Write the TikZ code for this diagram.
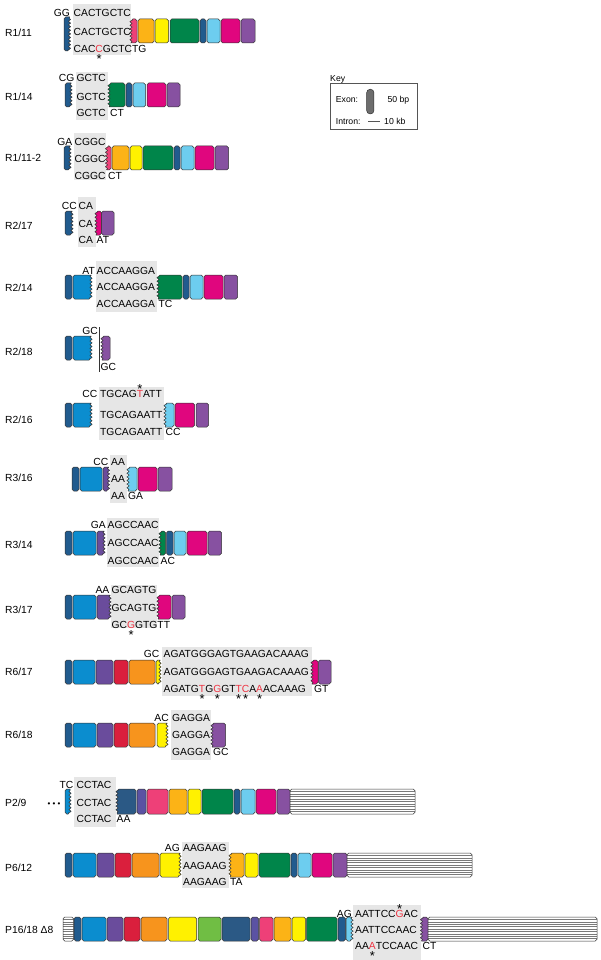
\documentclass[tikz,border=0pt]{standalone}
\usepackage{fontspec}
\setmainfont{Liberation Sans}
\usetikzlibrary{decorations.pathmorphing}
\definecolor{dblue}{HTML}{215B8E}
\definecolor{mblue}{HTML}{0B8DCF}
\definecolor{lblue}{HTML}{6DCDEF}
\definecolor{purp}{HTML}{8751A1}
\definecolor{violet}{HTML}{6A4C9C}
\definecolor{exred}{HTML}{DA1F3D}
\definecolor{orng}{HTML}{F7941D}
\definecolor{gold}{HTML}{FCB316}
\definecolor{yell}{HTML}{FFF100}
\definecolor{grn}{HTML}{00854A}
\definecolor{mag}{HTML}{E0067E}
\definecolor{pnk}{HTML}{EE4078}
\definecolor{lgrn}{HTML}{70BE44}
\definecolor{slate}{HTML}{2B5985}
\definecolor{indg}{HTML}{5B52A3}
\definecolor{seqgray}{HTML}{E6E6E6}
\definecolor{mutred}{HTML}{EE3342}
\definecolor{outl}{HTML}{333333}
\definecolor{stripegray}{HTML}{555555}
\definecolor{stripeln}{HTML}{7A7A7A}
\definecolor{keygray}{HTML}{6D6D6D}
\tikzset{
 exon/.style={draw=outl,line width=0.5pt,rounded corners=1.8pt},
 wavy/.style={decoration={zigzag,segment length=3.6pt,amplitude=1.1pt}},
 sq/.style={font=\fontsize{10.3}{12}\selectfont,inner sep=0pt,text height=7.4pt,text depth=0pt},
 keyf/.style={font=\fontsize{8.7}{10}\selectfont,inner sep=0pt,text height=6.2pt,text depth=0pt},
 stripe/.style={draw=stripeln,line width=0.35pt},
 sepline/.style={draw=outl,line width=0.5pt},
}
\newsavebox\chbox
\newcommand\MutB[1]{\sbox\chbox{#1}\rlap{\makebox[\wd\chbox]{\raisebox{-11.2pt}[0pt][0pt]{\fontsize{13}{13}\selectfont*}}}\textcolor{mutred}{#1}}
\newcommand\MutA[1]{\sbox\chbox{#1}\rlap{\makebox[\wd\chbox]{\raisebox{4.4pt}[0pt][0pt]{\fontsize{13}{13}\selectfont*}}}\textcolor{mutred}{#1}}
\newcommand\ExN[3]{\filldraw[exon,fill=#1] (#2,\rowT) rectangle (#3,\rowB);}
\newcommand\ExR[3]{\filldraw[exon,fill=#1] ({(#2+#3)/2},\rowT) -- (#2,\rowT) -- (#2,\rowB) -- (#3,\rowB) [sharp corners] decorate[wavy]{-- (#3,\rowT)} -- cycle;}
\newcommand\ExL[3]{\filldraw[exon,fill=#1] ({(#2+#3)/2},\rowB) -- (#3,\rowB) -- (#3,\rowT) -- (#2,\rowT) [sharp corners] decorate[wavy]{-- (#2,\rowB)} -- cycle;}
\newcommand\Intr[2]{\begin{scope}\clip[rounded corners=1.8pt] (#1,\rowT) rectangle (#2,\rowB);
 \fill[white] (#1,\rowT) rectangle (#2,\rowB);
 \foreach \k in {1,...,9}{\draw[stripe] (#1,{\rowT+\k*(\rowB-\rowT)/10}) -- (#2,{\rowT+\k*(\rowB-\rowT)/10});}
 \end{scope}\draw[exon] (#1,\rowT) rectangle (#2,\rowB);}
\newcommand\Gbox[4]{\fill[seqgray] (#1,#2) rectangle (#3,#4);}
\newcommand\SqW[4]{\node[sq,anchor=west] (#1) at (#2,#3) {#4};}
\newcommand\SqE[4]{\node[sq,anchor=east] (#1) at (#2,#3) {#4};}
\begin{document}
\begin{tikzpicture}[x=1pt,y=-1pt]
\useasboundingbox (0,0) rectangle (601,960);
% ---------- R1/11
\SqW{l1}{5}{33}{R1/11}
\Gbox{73}{4}{131}{55}
\def\rowT{19}\def\rowB{43}
{\def\rowT{17}\def\rowB{51}\ExR{dblue}{64}{69.5}}
\ExL{pnk}{131}{137}
\ExN{gold}{138}{154}
\ExN{yell}{155}{168.5}
\ExN{grn}{170}{199}
\ExN{dblue}{200}{206}
\ExN{lblue}{207}{220}
\ExN{mag}{221}{240}
\ExN{purp}{241}{255}
\SqE{a0}{70}{13}{GG}
\SqW{a1}{73.5}{13}{CACTGCTC}
\SqW{a2}{73.5}{32}{CACTGCTC}
\SqW{a3}{73.5}{49}{CAC\MutB{C}GCTCTG}
% ---------- Key
\node[keyf,anchor=west] (keyt) at (330,78.5) {Key};
\node[draw=stripegray,line width=0.5pt,minimum width=87pt,minimum height=46.5pt,inner sep=0pt,anchor=north west] (keybox) at (330,82.8) {};
\node[draw=outl,fill=keygray,line width=0.5pt,rounded corners=3.5pt,minimum width=7.3pt,minimum height=24.7pt,inner sep=0pt] (kex) at (370.3,101.6) {};
\node[keyf,anchor=west] (kt1) at (335.7,99.5) {Exon:};
\node[keyf,anchor=west] (kt2) at (387.3,99.5) {50 bp};
\node[keyf,anchor=west] (kt3) at (335.7,121.7) {Intron:};
\coordinate (ki1) at (368.3,121.7); \coordinate (ki2) at (380,121.7);
\draw[stripegray,line width=0.5pt] (ki1) -- (ki2);
\node[keyf,anchor=west] (kt4) at (384,121.7) {10 kb};
% ---------- R1/14
\SqW{l2}{5}{97}{R1/14}
\Gbox{76}{72}{108}{120}
\def\rowT{83}\def\rowB{107}
\ExR{dblue}{65}{71}
\ExL{grn}{109}{125}
\ExN{dblue}{126}{132}
\ExN{lblue}{133}{145.5}
\ExN{mag}{147}{166}
\ExN{purp}{167}{180}
\SqE{b0}{74.5}{78}{CG}
\SqW{b1}{76.5}{78}{GCTC}
\SqW{b2}{76.5}{97}{GCTC}
\SqW{b3}{76.5}{113}{GCTC}
\SqW{b4}{110}{113}{CT}
% ---------- R1/11-2
\SqW{l3}{5}{158}{R1/11-2}
\Gbox{74}{133}{106}{180}
\def\rowT{146}\def\rowB{170}
\ExR{dblue}{64}{70}
\ExL{pnk}{106.5}{111}
\ExN{gold}{112}{129}
\ExN{yell}{130}{142}
\ExN{grn}{143}{173}
\ExN{dblue}{174}{180}
\ExN{lblue}{181}{194}
\ExN{mag}{195}{214}
\ExN{purp}{215}{228.5}
\SqE{c0}{72.5}{142}{GA}
\SqW{c1}{74.5}{142}{CGGC}
\SqW{c2}{74.5}{159}{CGGC}
\SqW{c3}{74.5}{176}{CGGC}
\SqW{c4}{108}{176}{CT}
% ---------- R2/17
\SqW{l4}{5}{226}{R2/17}
\Gbox{78}{197}{96}{247}
\def\rowT{211}\def\rowB{235}
\ExR{dblue}{65}{72}
\ExL{mag}{96}{101.5}
\ExN{purp}{101.5}{114}
\SqE{d0}{77}{206}{CC}
\SqW{d1}{78.5}{206}{CA}
\SqW{d2}{78.5}{224}{CA}
\SqW{d3}{78.5}{240}{CA}
\SqW{d4}{96.5}{240}{AT}
% ---------- R2/14
\SqW{l5}{5}{288}{R2/14}
\Gbox{96}{261}{157}{312}
\def\rowT{275}\def\rowB{299}
\ExN{dblue}{65}{72}
\ExR{mblue}{73}{91}
\ExL{grn}{158}{182}
\ExN{dblue}{183}{189}
\ExN{lblue}{190}{203}
\ExN{mag}{204}{223}
\ExN{purp}{224}{237.5}
\SqE{e0}{95}{271}{AT}
\SqW{e1}{96.5}{271}{ACCAAGGA}
\SqW{e2}{96.5}{287}{ACCAAGGA}
\SqW{e3}{96.5}{304}{ACCAAGGA}
\SqW{e4}{158.5}{304}{TC}
% ---------- R2/18
\SqW{l6}{5}{352}{R2/18}
\def\rowT{336}\def\rowB{360}
\ExN{dblue}{65}{72}
\ExR{mblue}{73}{91}
\ExL{purp}{102}{110}
\SqE{f0}{98}{331}{GC}
\coordinate (f5) at (99,327); \coordinate (f6) at (99,372);
\draw[sepline] (f5) -- (f6);
\SqW{f1}{100.5}{367}{GC}
% ---------- R2/16
\SqW{l7}{5}{420}{R2/16}
\Gbox{99}{387}{164}{440}
\def\rowT{403}\def\rowB{427}
\ExN{dblue}{65}{72}
\ExR{mblue}{73}{91}
\ExL{lblue}{165}{174}
\ExN{mag}{175}{194.5}
\ExN{purp}{196}{208.5}
\SqE{g0}{97.5}{394}{CC}
\SqW{g1}{100}{394}{TGCAG\MutA{T}ATT}
\SqW{g2}{100}{415}{TGCAGAATT}
\SqW{g3}{100}{432}{TGCAGAATT}
\SqW{g4}{165.5}{432}{CC}
% ---------- R3/16
\SqW{l8}{5}{478}{R3/16}
\Gbox{110}{455}{127}{503}
\def\rowT{467}\def\rowB{491}
\ExN{dblue}{72}{79}
\ExN{mblue}{80}{102}
\ExR{violet}{103}{108.5}
\ExL{lblue}{128}{137}
\ExN{mag}{138}{157}
\ExN{purp}{158}{172}
\SqE{h0}{108.5}{462}{CC}
\SqW{h1}{111}{462}{AA}
\SqW{h2}{111}{479}{AA}
\SqW{h3}{111}{496}{AA}
\SqW{h4}{128}{496}{GA}
% ---------- R3/14
\SqW{l9}{5}{545}{R3/14}
\Gbox{107}{518}{159}{567}
\def\rowT{531}\def\rowB{555}
\ExN{dblue}{65}{72}
\ExN{mblue}{73}{96}
\ExR{violet}{97}{104}
\ExL{grn}{160}{165.5}
\ExN{dblue}{166.5}{173}
\ExN{lblue}{174}{186}
\ExN{mag}{187}{207}
\ExN{purp}{208}{221.5}
\SqE{i0}{106}{525}{GA}
\SqW{i1}{107.5}{525}{AGCCAAC}
\SqW{i2}{107.5}{543}{AGCCAAC}
\SqW{i3}{107.5}{561}{AGCCAAC}
\SqW{i4}{160.5}{561}{AC}
% ---------- R3/17
\SqW{l10}{5}{610}{R3/17}
\Gbox{111}{585}{157}{628}
\def\rowT{595}\def\rowB{619}
\ExN{dblue}{65}{72}
\ExN{mblue}{73}{96}
\ExR{violet}{97}{110}
\ExL{mag}{158}{171}
\ExN{purp}{172}{185}
\SqE{j0}{109.5}{590}{AA}
\SqW{j1}{111.5}{590}{GCAGTG}
\SqW{j2}{111.5}{608}{GCAGTG}
\SqW{j3}{111.5}{625}{GC\MutB{G}GTGTT}
% ---------- R6/17
\SqW{l11}{5}{672}{R6/17}
\Gbox{162}{647}{312}{696}
\def\rowT{660}\def\rowB{684}
\ExN{dblue}{65}{72}
\ExN{mblue}{73}{95}
\ExN{violet}{96}{113}
\ExN{exred}{114}{128}
\ExN{orng}{129}{155}
\ExR{yell}{156}{160}
\ExL{mag}{312}{318}
\ExN{purp}{318.5}{331}
\SqE{k0}{159.5}{654}{GC}
\SqW{k1}{163.5}{654}{AGATGGGAGTGAAGACAAAG}
\SqW{k2}{163.5}{672}{AGATGGGAGTGAAGACAAAG}
\SqW{k3}{163.5}{689}{AGATG\MutB{T}G\MutB{G}GT\MutB{T}\MutB{C}A\MutB{A}ACAAAG}
\SqW{k4}{314}{689}{GT}
% ---------- R6/18
\SqW{l12}{5}{735}{R6/18}
\Gbox{171}{710}{211}{760}
\def\rowT{723}\def\rowB{747}
\ExN{dblue}{65}{72}
\ExN{mblue}{73}{96}
\ExN{violet}{97}{113}
\ExN{exred}{114}{128}
\ExN{orng}{129}{155}
\ExR{yell}{157}{167}
\ExL{purp}{212}{225.5}
\SqE{m0}{169}{718}{AC}
\SqW{m1}{172}{718}{GAGGA}
\SqW{m2}{172}{735}{GAGGA}
\SqW{m3}{172}{752}{GAGGA}
\SqW{m4}{213}{752}{GC}
% ---------- P2/9
\SqW{l13}{5}{803}{P2/9}
\node[anchor=base,font=\fontsize{8}{8}\selectfont,inner sep=0pt] (dots) at (54,806.5) {• • •};
\Gbox{74}{777}{116}{827}
\def\rowT{789}\def\rowB{814}
\ExR{mblue}{65}{70}
\ExL{slate}{117}{136}
\ExN{indg}{137}{146}
\ExN{pnk}{147}{168}
\ExN{gold}{169}{187}
\ExN{yell}{188}{201}
\ExN{grn}{202}{233}
\ExN{dblue}{234}{240}
\ExN{lblue}{241}{255}
\ExN{mag}{256}{276}
\ExN{purp}{277}{290}
\Intr{290}{415}
\SqE{n0}{73.5}{785}{TC}
\SqW{n1}{76.5}{785}{CCTAC}
\SqW{n2}{76.5}{803}{CCTAC}
\SqW{n3}{76.5}{819}{CCTAC}
\SqW{n4}{116.5}{819}{AA}
% ---------- P6/12
\SqW{l14}{5}{868}{P6/12}
\Gbox{182}{842}{229}{888}
\def\rowT{853}\def\rowB{877}
\ExN{dblue}{65}{72}
\ExN{mblue}{73}{96}
\ExN{violet}{97}{114}
\ExN{exred}{115}{131}
\ExN{orng}{132}{159}
\ExR{yell}{160}{180}
\ExL{gold}{230}{244}
\ExN{yell}{245}{258}
\ExN{grn}{259}{290}
\ExN{dblue}{291}{297}
\ExN{lblue}{298}{311}
\ExN{mag}{312}{332}
\ExN{purp}{333}{347}
\Intr{347}{472}
\SqE{p0}{180}{848}{AG}
\SqW{p1}{183}{848}{AAGAAG}
\SqW{p2}{183}{866}{AAGAAG}
\SqW{p3}{183}{882}{AAGAAG}
\SqW{p4}{230}{882}{TA}
% ---------- P16/18 D8
\SqW{l15}{5}{930}{P16/18 Δ8}
\Gbox{353}{905}{421}{960}
\def\rowT{917}\def\rowB{941}
\Intr{63}{73.5}
\ExN{dblue}{74}{81}
\ExN{mblue}{82}{106}
\ExN{violet}{107}{123}
\ExN{exred}{124}{140}
\ExN{orng}{141}{167}
\ExN{yell}{168.5}{196.5}
\ExN{lgrn}{198}{221}
\ExN{slate}{222}{250}
\ExN{indg}{251}{258.5}
\ExN{pnk}{259.5}{273}
\ExN{gold}{274}{291}
\ExN{yell}{292}{305.5}
\ExN{grn}{306.5}{337}
\ExN{dblue}{338}{345.5}
\ExR{lblue}{346}{352}
\ExL{purp}{421.5}{428}
\Intr{428}{597}
\SqE{q0}{352}{914}{AG}
\SqW{q1}{355}{914}{AATTCC\MutA{G}AC}
\SqW{q2}{355}{930}{AATTCCAAC}
\SqW{q3}{355}{946}{AA\MutB{A}TCCAAC}
\SqW{q4}{422.5}{946}{CT}
\end{tikzpicture}
\end{document}
